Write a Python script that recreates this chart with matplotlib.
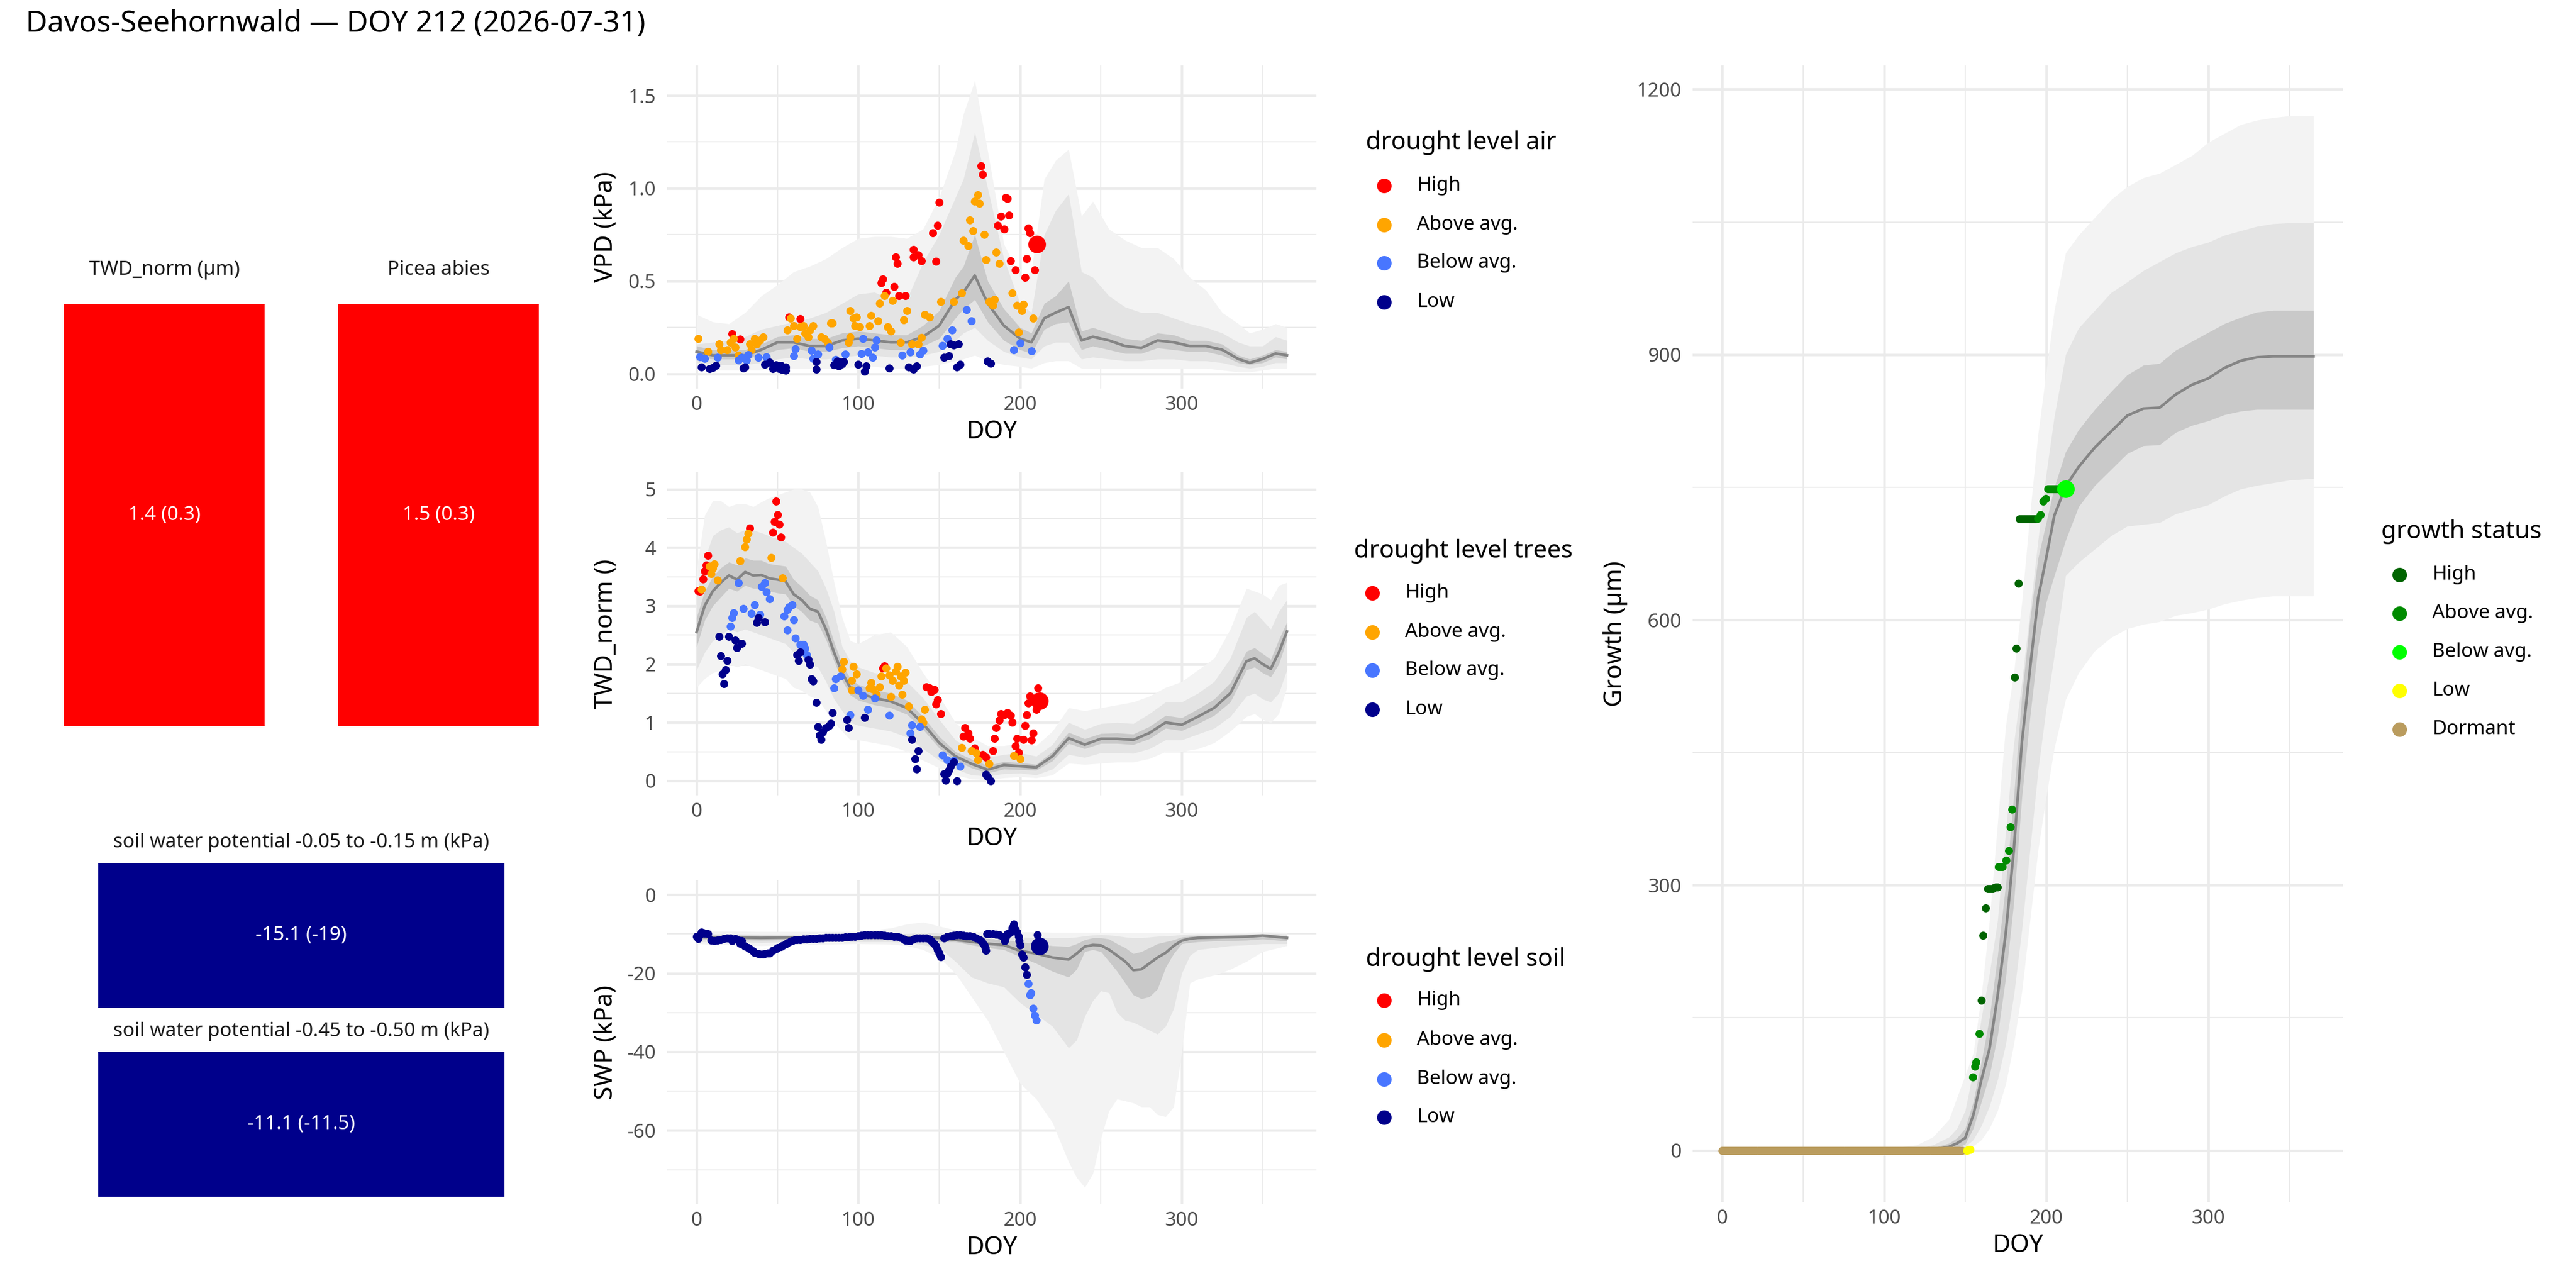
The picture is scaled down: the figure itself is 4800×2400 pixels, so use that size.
import numpy as np
import matplotlib
matplotlib.use("Agg")
import matplotlib.pyplot as plt
from matplotlib.lines import Line2D
from matplotlib.patches import Rectangle

plt.rcParams['font.family'] = ['Noto Sans', 'DejaVu Sans']
plt.rcParams['axes.unicode_minus'] = False

TITLE = "Davos-Seehornwald — DOY 212 (2026-07-31)"
NOW = 212

LEVELS = ["High", "Above avg.", "Below avg.", "Low"]
LEVEL_COLORS = ["#FF0000", "#FFA500", "#4876FF", "#00008B"]
GROWTH_LEVELS = ["High", "Above avg.", "Below avg.", "Low", "Dormant"]
GROWTH_COLORS = ["#006400", "#008B00", "#00FF00", "#FFFF00", "#BA9C5E"]

# summary tiles
tree_tile_labels = ["TWD_norm (µm)", "Picea abies"]
tree_tile_values = ["1.4 (0.3)", "1.5 (0.3)"]
soil_tile_labels = ["soil water potential -0.05 to -0.15 m (kPa)",
                    "soil water potential -0.45 to -0.50 m (kPa)"]
soil_tile_values = ["-15.1 (-19)", "-11.1 (-11.5)"]

# ---------------- VPD climatology ----------------
vpd_doy = [0, 10, 20, 30, 40, 50, 60, 70, 80, 90, 100, 110, 120, 130, 140, 150, 160, 165, 172, 180,
           190, 200, 207, 215, 222, 230, 238, 245, 255, 265, 275, 285, 295, 305, 315, 325, 335, 342,
           350, 358, 365]
vpd_med = [0.12, 0.10, 0.10, 0.10, 0.13, 0.17, 0.17, 0.15, 0.15, 0.18, 0.19, 0.18, 0.17, 0.17, 0.20,
           0.26, 0.40, 0.44, 0.53, 0.38, 0.26, 0.19, 0.17, 0.30, 0.33, 0.36, 0.18, 0.20, 0.18, 0.15,
           0.14, 0.18, 0.17, 0.15, 0.15, 0.13, 0.08, 0.06, 0.08, 0.11, 0.10]
vpd_in_lo = [0.09, 0.08, 0.08, 0.08, 0.10, 0.13, 0.14, 0.12, 0.12, 0.14, 0.15, 0.14, 0.13, 0.13, 0.15,
             0.19, 0.30, 0.35, 0.40, 0.28, 0.18, 0.13, 0.11, 0.24, 0.27, 0.28, 0.13, 0.15, 0.13, 0.11,
             0.11, 0.14, 0.13, 0.12, 0.12, 0.10, 0.06, 0.05, 0.06, 0.09, 0.08]
vpd_in_hi = [0.15, 0.13, 0.13, 0.13, 0.16, 0.20, 0.21, 0.19, 0.19, 0.22, 0.23, 0.22, 0.21, 0.21, 0.26,
             0.34, 0.52, 0.58, 0.75, 0.50, 0.35, 0.25, 0.22, 0.38, 0.42, 0.50, 0.23, 0.25, 0.22, 0.19,
             0.18, 0.22, 0.21, 0.18, 0.18, 0.16, 0.10, 0.08, 0.10, 0.13, 0.12]
vpd_mid_lo = [0.06, 0.05, 0.05, 0.05, 0.06, 0.08, 0.09, 0.08, 0.08, 0.09, 0.10, 0.10, 0.09, 0.09, 0.10,
              0.12, 0.18, 0.22, 0.25, 0.18, 0.12, 0.09, 0.08, 0.15, 0.17, 0.17, 0.08, 0.09, 0.08, 0.07,
              0.07, 0.08, 0.08, 0.07, 0.07, 0.06, 0.04, 0.03, 0.04, 0.06, 0.06]
vpd_mid_hi = [0.16, 0.17, 0.18, 0.20, 0.24, 0.26, 0.28, 0.30, 0.33, 0.38, 0.43, 0.44, 0.40, 0.40, 0.60,
              0.75, 0.95, 1.05, 1.30, 1.00, 0.62, 0.38, 0.33, 0.75, 0.88, 0.97, 0.55, 0.52, 0.42, 0.36,
              0.33, 0.33, 0.30, 0.27, 0.25, 0.22, 0.17, 0.15, 0.15, 0.20, 0.18]
vpd_out_lo = [0.03, 0.02, 0.02, 0.02, 0.02, 0.03, 0.03, 0.03, 0.03, 0.03, 0.04, 0.04, 0.03, 0.03, 0.04,
              0.05, 0.07, 0.08, 0.10, 0.07, 0.05, 0.04, 0.03, 0.06, 0.07, 0.07, 0.03, 0.03, 0.03, 0.03,
              0.03, 0.03, 0.03, 0.03, 0.03, 0.02, 0.01, 0.01, 0.02, 0.03, 0.03]
vpd_out_hi = [0.32, 0.28, 0.27, 0.33, 0.42, 0.48, 0.55, 0.58, 0.62, 0.68, 0.73, 0.74, 0.74, 0.73, 0.78,
              0.95, 1.20, 1.40, 1.58, 1.20, 0.70, 0.52, 0.55, 1.05, 1.15, 1.21, 0.85, 0.93, 0.78, 0.72,
              0.68, 0.68, 0.62, 0.52, 0.45, 0.33, 0.27, 0.22, 0.24, 0.27, 0.25]

# VPD observations of the current year, by drought level
vpd_high_doy = [22, 27, 57, 64, 114, 115, 117, 122, 125, 129, 123, 124, 134, 134, 137, 139, 148, 146,
                149, 150, 176, 177, 186, 188, 190, 193, 191, 192, 194, 197, 203, 204, 205, 206, 209]
vpd_high_val = [0.215, 0.187, 0.305, 0.298, 0.49, 0.51, 0.44, 0.47, 0.42, 0.42, 0.63, 0.595, 0.67,
                0.63, 0.64, 0.61, 0.605, 0.76, 0.80, 0.925, 1.12, 1.075, 0.80, 0.85, 0.78, 0.855,
                0.95, 0.945, 0.61, 0.56, 0.52, 0.62, 0.785, 0.76, 0.56]
vpd_above_doy = [1, 7, 14, 15, 19, 21, 23, 24, 26, 33, 34, 36, 37, 39, 41, 56, 58, 60, 62, 64, 66, 67,
                 69, 70, 72, 77, 79, 81, 83, 84, 94, 95, 95, 97, 98, 99, 101, 107, 108, 112, 113, 116,
                 118, 120, 121, 126, 128, 130, 133, 137, 139, 141, 144, 151, 159, 164, 165, 168, 169,
                 171, 172, 174, 175, 178, 179, 181, 183, 184, 185, 187, 195, 198, 201, 202, 199, 208]
vpd_above_val = [0.19, 0.12, 0.16, 0.13, 0.13, 0.17, 0.19, 0.145, 0.10, 0.16, 0.13, 0.19, 0.16, 0.18,
                 0.20, 0.235, 0.30, 0.26, 0.19, 0.255, 0.26, 0.22, 0.20, 0.235, 0.26, 0.20, 0.19,
                 0.17, 0.275, 0.275, 0.17, 0.20, 0.34, 0.30, 0.26, 0.305, 0.255, 0.26, 0.315, 0.285,
                 0.38, 0.42, 0.255, 0.23, 0.395, 0.17, 0.29, 0.34, 0.16, 0.16, 0.195, 0.32, 0.305,
                 0.39, 0.39, 0.435, 0.72, 0.69, 0.83, 0.77, 0.93, 0.965, 0.92, 0.75, 0.615, 0.39,
                 0.37, 0.40, 0.655, 0.595, 0.435, 0.37, 0.34, 0.375, 0.225, 0.30]
vpd_below_doy = [2, 5, 13, 26, 28, 31, 32, 38, 43, 60, 61, 71, 72, 75, 82, 86, 92, 102, 103, 106, 109,
                 111, 110, 127, 132, 138, 140, 152, 155, 158, 167, 170, 196, 200, 207]
vpd_below_val = [0.093, 0.083, 0.09, 0.073, 0.09, 0.073, 0.104, 0.09, 0.093, 0.097, 0.134, 0.125,
                 0.083, 0.107, 0.145, 0.076, 0.107, 0.11, 0.19, 0.118, 0.09, 0.18, 0.145, 0.10,
                 0.118, 0.107, 0.125, 0.152, 0.19, 0.235, 0.345, 0.284, 0.13, 0.166, 0.122]
vpd_low_doy = [3, 8, 10, 12, 29, 30, 42, 45, 47, 49, 51, 52, 53, 55, 55, 74, 74, 85, 87, 88, 89, 90,
               91, 100, 104, 105, 119, 131, 134, 136, 153, 156, 157, 159, 161, 162, 163, 180, 182]
vpd_low_val = [0.037, 0.028, 0.035, 0.044, 0.032, 0.037, 0.051, 0.062, 0.028, 0.048, 0.028, 0.046,
               0.021, 0.037, 0.018, 0.065, 0.024, 0.048, 0.069, 0.042, 0.062, 0.055, 0.065, 0.051,
               0.014, 0.042, 0.032, 0.037, 0.024, 0.042, 0.09, 0.097, 0.16, 0.156, 0.037, 0.16,
               0.051, 0.069, 0.058]
vpd_now_doy = 210.5
vpd_now = 0.70
vpd_now_level = "High"

# ---------------- TWD_norm climatology ----------------
twd_doy = [0, 5, 10, 15, 20, 25, 30, 35, 40, 45, 50, 55, 60, 65, 70, 75, 80, 85, 90, 95, 100, 110,
           120, 130, 140, 150, 160, 170, 180, 190, 200, 210, 220, 230, 240, 250, 260, 270, 280, 290,
           300, 310, 320, 330, 340, 345, 350, 355, 360, 365]
twd_med = [2.55, 3.0, 3.25, 3.4, 3.52, 3.45, 3.58, 3.52, 3.53, 3.47, 3.45, 3.42, 3.2, 3.1, 2.95, 2.9,
           2.6, 2.2, 1.85, 1.6, 1.5, 1.42, 1.36, 1.25, 0.98, 0.65, 0.42, 0.29, 0.19, 0.27, 0.25, 0.23,
           0.42, 0.73, 0.62, 0.72, 0.72, 0.70, 0.82, 1.0, 0.96, 1.1, 1.25, 1.5, 2.05, 2.1, 2.0, 1.92,
           2.2, 2.56]
twd_in_lo = [2.3, 2.75, 3.0, 3.15, 3.3, 3.25, 3.35, 3.3, 3.3, 3.25, 3.22, 3.2, 3.0, 2.9, 2.75, 2.7,
             2.42, 2.05, 1.72, 1.47, 1.38, 1.3, 1.25, 1.14, 0.88, 0.56, 0.35, 0.22, 0.13, 0.2, 0.19,
             0.18, 0.34, 0.64, 0.55, 0.64, 0.64, 0.62, 0.72, 0.9, 0.86, 0.98, 1.12, 1.35, 1.9, 1.95,
             1.85, 1.78, 2.0, 2.42]
twd_in_hi = [2.8, 3.25, 3.5, 3.65, 3.75, 3.7, 3.82, 3.78, 3.78, 3.72, 3.7, 3.68, 3.45, 3.33, 3.18,
             3.1, 2.8, 2.38, 2.0, 1.75, 1.65, 1.56, 1.5, 1.38, 1.1, 0.76, 0.5, 0.37, 0.26, 0.33, 0.31,
             0.28, 0.5, 0.83, 0.72, 0.81, 0.82, 0.8, 0.93, 1.12, 1.08, 1.23, 1.4, 1.68, 2.22, 2.28,
             2.18, 2.08, 2.42, 2.72]
twd_mid_lo = [1.9, 2.2, 2.4, 2.5, 2.6, 2.55, 2.6, 2.55, 2.5, 2.45, 2.4, 2.35, 2.2, 2.1, 2.0, 1.95,
              1.7, 1.4, 1.2, 1.0, 0.95, 0.9, 0.85, 0.75, 0.55, 0.35, 0.2, 0.1, 0.08, 0.12, 0.13, 0.1,
              0.2, 0.45, 0.4, 0.48, 0.48, 0.47, 0.55, 0.7, 0.7, 0.8, 0.9, 1.1, 1.45, 1.5, 1.4, 1.35,
              1.5, 1.9]
twd_mid_hi = [3.2, 3.8, 4.2, 4.3, 4.35, 4.25, 4.3, 4.3, 4.25, 4.2, 4.15, 4.1, 4.0, 3.9, 3.75, 3.6,
              3.3, 2.9, 2.3, 2.05, 1.95, 1.85, 1.82, 1.7, 1.42, 1.05, 0.7, 0.52, 0.4, 0.45, 0.48,
              0.42, 0.62, 1.0, 0.88, 0.98, 1.0, 0.98, 1.15, 1.35, 1.35, 1.5, 1.7, 2.1, 2.8, 2.9,
              2.75, 2.6, 2.9, 3.1]
twd_out_lo = [1.6, 1.75, 1.85, 1.9, 2.0, 1.95, 2.0, 1.95, 1.9, 1.85, 1.8, 1.75, 1.6, 1.55, 1.45, 1.4,
              1.2, 1.0, 0.85, 0.7, 0.7, 0.65, 0.6, 0.5, 0.35, 0.22, 0.1, 0.03, 0.02, 0.05, 0.07,
              0.05, 0.1, 0.3, 0.28, 0.3, 0.32, 0.32, 0.38, 0.5, 0.5, 0.55, 0.65, 0.85, 1.1, 1.15,
              1.05, 1.0, 1.15, 1.6]
twd_out_hi = [3.6, 4.55, 4.8, 4.8, 4.7, 4.75, 4.75, 4.7, 4.78, 4.85, 4.9, 4.95, 5.0, 5.0, 4.95, 4.7,
              4.1, 3.4, 2.8, 2.4, 2.35, 2.5, 2.55, 2.3, 1.85, 1.45, 1.0, 0.75, 0.6, 0.6, 0.65, 0.6,
              0.85, 1.25, 1.2, 1.25, 1.3, 1.35, 1.45, 1.6, 1.7, 1.9, 2.1, 2.6, 3.3, 3.25, 3.2, 3.1,
              3.35, 3.4]

twd_high_doy = [1, 2, 4, 5, 6, 7, 33, 47, 48, 49, 50, 51, 52, 115, 116, 142, 144, 145, 147, 148, 149,
                151, 165, 166, 168, 169, 172, 177, 179, 183, 184, 185, 187, 188, 190, 192, 194, 195,
                197, 198, 199, 202, 203, 204, 205, 206, 207, 208, 210, 211]
twd_high_val = [3.26, 3.25, 3.46, 3.6, 3.7, 3.86, 4.33, 4.26, 4.44, 4.79, 4.56, 4.4, 4.18, 1.93,
                1.97, 1.61, 1.59, 1.53, 1.56, 1.31, 1.39, 1.15, 0.76, 0.91, 0.82, 0.73, 0.56, 0.45,
                0.40, 0.51, 0.73, 0.91, 1.04, 1.15, 1.13, 1.17, 1.12, 1.0, 0.60, 0.73, 0.49, 0.71,
                0.95, 1.13, 1.33, 1.45, 0.70, 0.82, 1.22, 1.59]
twd_above_doy = [3, 8, 9, 10, 11, 13, 27, 30, 31, 32, 46, 53, 90, 91, 97, 99, 96, 96, 107, 108, 109,
                 111, 113, 114, 117, 119, 120, 121, 123, 124, 125, 126, 127, 128, 129, 131, 139, 140,
                 141, 164, 170, 173, 174, 181, 196, 200]
twd_above_val = [3.28, 3.68, 3.55, 3.64, 3.72, 3.44, 3.77, 4.01, 4.14, 4.24, 3.83, 3.48, 1.91, 2.04,
                 1.96, 1.83, 1.72, 1.55, 1.59, 1.68, 1.57, 1.48, 1.61, 1.79, 1.93, 1.81, 1.44, 1.72,
                 1.88, 1.96, 1.64, 1.79, 1.48, 1.72, 1.86, 1.28, 1.06, 1.0, 1.22, 0.57, 0.51, 0.48,
                 0.36, 0.29, 0.43, 0.38]
twd_below_doy = [21, 22, 23, 26, 29, 34, 36, 39, 40, 42, 43, 45, 54, 56, 57, 59, 56, 60, 61, 64, 66,
                 67, 68, 85, 86, 89, 95, 100, 103, 106, 110, 119, 133, 132, 138, 152, 155, 159, 163]
twd_below_val = [2.65, 2.80, 2.88, 3.39, 2.95, 2.87, 3.02, 2.85, 3.33, 3.39, 3.24, 3.12, 2.82, 2.93,
                 2.98, 3.02, 2.58, 2.76, 2.45, 2.34, 2.34, 2.27, 2.16, 1.59, 1.75, 1.79, 1.13, 1.55,
                 1.46, 1.22, 1.42, 1.12, 0.96, 0.82, 0.93, 0.44, 0.36, 0.35, 0.25]
twd_low_doy = [14, 15, 16, 17, 18, 19, 20, 24, 25, 28, 37, 38, 42, 62, 63, 64, 69, 70, 71, 72, 74, 75,
               76, 77, 78, 80, 82, 83, 84, 93, 94, 104, 133, 135, 137, 136, 153, 154, 155, 156, 157,
               159, 161, 179, 180, 182]
twd_low_val = [2.47, 2.14, 1.83, 1.66, 1.9, 2.06, 2.47, 2.41, 2.28, 2.35, 2.71, 2.80, 2.72, 2.16,
               2.06, 2.21, 2.08, 2.0, 1.75, 1.71, 1.34, 0.93, 0.78, 0.71, 0.84, 0.91, 0.95, 0.98,
               1.17, 1.05, 0.91, 1.08, 0.71, 0.38, 0.51, 0.20, 0.12, 0.01, 0.13, 0.18, 0.25, 0.32,
               0.0, 0.11, 0.07, 0.0]
twd_now = 1.37
twd_now_level = "High"

# ---------------- soil water potential climatology ----------------
swp_doy = [0, 20, 40, 60, 80, 100, 120, 130, 140, 150, 160, 170, 180, 190, 200, 210, 220, 230, 235,
           240, 245, 250, 255, 260, 265, 270, 275, 280, 285, 290, 295, 300, 305, 310, 320, 330, 340,
           350, 365]
swp_med = [-10.8, -10.9, -11.0, -10.9, -10.9, -10.9, -10.9, -10.9, -11.0, -11.0, -11.5, -12.0, -12.5,
           -12.8, -14.3, -15.0, -16.0, -16.5, -15.0, -13.2, -12.8, -12.9, -14.0, -15.5, -17.0, -19.2,
           -19.0, -17.5, -16.0, -14.8, -13.0, -11.7, -11.2, -11.0, -10.9, -10.8, -10.7, -10.4, -11.0]
swp_in_lo = [-11.5, -11.5, -11.6, -11.5, -11.5, -11.5, -11.5, -11.6, -11.8, -12.0, -12.0, -12.8,
             -13.5, -14.0, -15.8, -17.5, -19.5, -21.0, -19.0, -14.5, -14.0, -14.5, -17.0, -19.5,
             -22.5, -25.5, -26.5, -26.0, -24.0, -18.5, -15.0, -12.5, -12.2, -12.0, -11.8, -11.7,
             -11.6, -11.3, -11.8]
swp_in_hi = [-10.3, -10.3, -10.4, -10.4, -10.4, -10.4, -10.4, -10.4, -10.4, -10.5, -10.8, -11.0,
             -11.2, -11.5, -12.0, -12.5, -13.0, -13.2, -12.5, -11.5, -11.0, -11.0, -11.3, -12.5,
             -13.5, -15.0, -14.5, -13.5, -12.5, -12.0, -11.5, -10.8, -10.6, -10.5, -10.4, -10.3,
             -10.2, -10.0, -10.5]
swp_mid_lo = [-12.0, -12.0, -12.2, -12.0, -12.0, -12.0, -12.0, -12.2, -12.8, -13.5, -17.0, -21.0,
              -22.5, -23.5, -27.5, -30.5, -33.5, -39.0, -37.0, -31.0, -27.0, -24.5, -25.0, -30.0,
              -32.0, -32.5, -33.5, -34.5, -35.5, -33.5, -29.0, -20.0, -15.5, -14.0, -13.5, -13.0,
              -12.8, -12.5, -12.5]
swp_mid_hi = [-10.0, -10.0, -10.1, -10.1, -10.1, -10.1, -10.0, -9.9, -9.7, -9.8, -10.0, -10.2,
              -10.4, -10.6, -10.8, -11.0, -11.0, -11.0, -10.8, -10.5, -10.3, -10.2, -10.3, -10.5,
              -10.8, -11.0, -11.0, -10.8, -10.6, -10.5, -10.4, -10.2, -10.1, -10.0, -10.0, -10.0,
              -10.0, -9.8, -10.0]
swp_out_lo = [-12.5, -12.8, -13.0, -12.8, -12.6, -12.5, -12.6, -13.0, -14.0, -16.0, -20.0, -26.0,
              -32.0, -40.0, -48.0, -52.0, -58.0, -68.0, -72.0, -74.5, -71.0, -62.0, -55.0, -52.0,
              -52.5, -53.0, -54.0, -54.0, -56.0, -56.5, -54.0, -40.0, -22.5, -21.5, -20.5, -19.0,
              -17.0, -14.5, -13.0]
swp_out_hi = [-9.3, -9.3, -9.4, -9.4, -9.4, -9.4, -8.5, -7.5, -7.0, -8.0, -9.0, -9.4, -9.5, -9.5,
              -9.5, -9.5, -9.6, -9.6, -9.6, -9.6, -9.6, -9.6, -9.6, -9.6, -9.7, -9.7, -9.7, -9.7,
              -9.7, -9.7, -9.7, -9.6, -9.6, -9.6, -9.6, -9.6, -9.6, -9.5, -9.6]

swp_low_doy = [0, 1, 2, 3, 4, 5, 7, 9, 11, 13, 15, 17, 19, 21, 22, 24, 26, 27, 28, 30, 32, 33, 35, 36,
               38, 39, 41, 42, 44, 45, 47, 49, 50, 52, 53, 55, 56, 58, 59, 61, 62, 64, 66, 68, 70,
               72, 74, 76, 78, 80, 82, 84, 86, 88, 90, 92, 94, 96, 98, 100, 102, 104, 106, 108, 110,
               112, 114, 116, 118, 120, 122, 124, 126, 128, 129, 131, 132, 134, 136, 138, 140, 142,
               144, 145, 146, 147, 148, 149, 150, 151,
               153, 155, 157, 159, 161, 163, 165, 167, 169, 171, 173, 175, 176, 177, 178, 178.5, 179,
               179.5, 181, 183, 185, 187, 189, 190, 190.5, 191, 192, 193, 194, 195, 196, 197, 198,
               199, 199.5, 200, 201, 202, 203, 204, 210.7, 211.6]
swp_low_val = [-10.7, -11.2, -10.2, -9.6, -9.7, -9.8, -10.0, -11.6, -11.7, -11.6, -11.5, -11.2, -11.0,
               -11.0, -11.7, -11.2, -11.6, -12.4, -11.8, -13.1, -13.5, -13.8, -14.3, -14.7, -15.0,
               -15.2, -15.1, -15.0, -14.9, -14.9, -14.2, -13.8, -13.5, -13.2, -13.0, -12.6, -12.3,
               -11.9, -11.7, -11.5, -11.4, -11.4, -11.3, -11.3, -11.2, -11.2, -11.2, -11.0, -11.0,
               -10.9, -10.9, -10.9, -10.9, -10.9, -10.9, -10.8, -10.8, -10.7, -10.7, -10.5, -10.4,
               -10.3, -10.3, -10.3, -10.3, -10.3, -10.3, -10.4, -10.5, -10.5, -10.6, -10.7, -10.9,
               -11.3, -11.6, -11.8, -11.7, -11.3, -11.0, -11.0, -11.0, -11.0, -11.3, -11.7, -12.2,
               -12.6, -13.1, -14.0, -14.9, -15.9,
               -11.0, -10.7, -10.5, -10.4, -10.3, -10.3, -10.4, -10.5, -10.5, -10.7, -11.0, -11.4,
               -11.7, -12.3, -12.8, -13.5, -14.2,
               -10.0, -10.0, -10.0, -10.1, -10.2, -10.6, -11.0, -11.7, -10.8, -10.0, -9.8, -9.6,
               -8.5, -7.5, -8.9, -9.6, -10.7, -11.7, -12.8, -15.2, -16.0, -18.4, -20.4, -10.3, -11.7]
swp_below_doy = [205, 206.2, 206.8, 208, 209.2, 210]
swp_below_val = [-22.7, -25.5, -25.0, -29.0, -30.7, -32.0]
swp_now = -13.1
swp_now_level = "Low"

# ---------------- cumulative growth ----------------
g_doy = [0, 100, 120, 130, 140, 145, 150, 155, 160, 165, 170, 175, 180, 185, 190, 195, 200, 205, 212,
         220, 230, 240, 250, 260, 270, 280, 290, 300, 310, 320, 330, 340, 350, 365]
g_med = [0, 0, 0, 1, 4, 8, 14, 40, 80, 115, 175, 245, 340, 462, 545, 625, 670, 718, 751, 773, 795,
         813, 831, 839, 840, 855, 866, 873, 885, 893, 897, 898, 898, 898]
g_in_lo = [0, 0, 0, 0, 1, 3, 7, 25, 55, 85, 130, 195, 280, 400, 490, 570, 620, 650, 690, 728, 752,
           770, 788, 797, 798, 812, 820, 825, 832, 836, 838, 838, 838, 838]
g_in_hi = [0, 0, 1, 3, 8, 14, 25, 55, 100, 150, 220, 300, 400, 515, 600, 670, 710, 750, 790, 815,
           838, 858, 877, 888, 890, 905, 915, 925, 935, 942, 948, 950, 950, 950]
g_mid_lo = [0, 0, 0, 0, 1, 2, 4, 12, 28, 50, 80, 120, 175, 250, 340, 430, 500, 560, 650, 665, 680,
            695, 706, 708, 710, 720, 725, 730, 740, 748, 752, 755, 758, 760]
g_mid_hi = [0, 0, 2, 6, 15, 25, 45, 90, 150, 200, 260, 360, 460, 530, 610, 690, 765, 830, 900, 930,
            950, 970, 982, 995, 1005, 1015, 1022, 1027, 1035, 1040, 1045, 1048, 1049, 1049]
g_out_lo = [0, 0, 0, 0, 0, 1, 2, 5, 12, 25, 45, 75, 120, 180, 260, 340, 400, 455, 510, 540, 565,
            580, 590, 595, 598, 605, 608, 612, 618, 622, 625, 627, 627, 627]
g_out_hi = [0, 2, 6, 15, 35, 60, 85, 110, 175, 260, 370, 480, 540, 620, 720, 810, 880, 950, 1015,
            1035, 1055, 1075, 1090, 1100, 1105, 1115, 1125, 1140, 1150, 1160, 1165, 1168, 1170, 1170]

growth_dormant_first, growth_dormant_last = 0, 148   # daily zero growth
growth_low_doy = [151, 152, 153]
growth_low_val = [0, 1, 1]
growth_high_doy = [160.1, 161.1, 162.6, 164, 165, 166, 167, 168, 169, 170, 180.6, 181.5, 182.7,
                   183.5, 184.5, 185.5, 186.5, 187.5, 188.5, 189.5, 190.5, 191.5, 192.5, 193.5]
growth_high_val = [170, 243, 274, 296, 296, 296, 296, 297, 298, 298, 535, 568, 641, 714, 714, 714,
                   714, 714, 714, 714, 714, 714, 714, 714]
growth_above_doy = [154.7, 155.9, 156.6, 158.6, 170.6, 171.5, 172.3, 173, 175.2, 176.9, 178, 179,
                    194.7, 196.4, 198.1, 199.8, 201, 202, 203, 204, 205, 206, 207, 208]
growth_above_val = [83, 95, 100, 132, 321, 321, 321, 321, 328, 339, 366, 386, 715, 719, 734, 737,
                    748, 748, 748, 748, 748, 748, 748, 748]
growth_now = 748
growth_now_level = "Below avg."

# ---------------- figure ----------------
W, H = 4800, 2400
fig = plt.figure(figsize=(16, 8), dpi=300)

BAND_COLORS = ["#F3F3F3", "#E4E4E4", "#C9C9C9"]
GRID = "#EBEBEB"
PT = 13      # marker area of daily points
PT_NOW = 62  # marker area of the current day


def px_axes(x0, y0, x1, y1):
    return fig.add_axes([x0 / W, 1 - y1 / H, (x1 - x0) / W, (y1 - y0) / H])


def style_axes(ax, ylim, yticks, yminor, yticklabels, ylabel, ylab_x, height_px):
    ax.set_xlim(-18.25, 383.25)
    ax.set_ylim(*ylim)
    ax.set_xticks([0, 100, 200, 300])
    ax.set_xticks([50, 150, 250, 350], minor=True)
    ax.set_yticks(yticks)
    ax.set_yticklabels(yticklabels)
    ax.set_yticks(yminor, minor=True)
    ax.grid(which='major', color=GRID, lw=1.1)
    ax.grid(which='minor', color=GRID, lw=0.55)
    ax.set_axisbelow(True)
    for s in ax.spines.values():
        s.set_visible(False)
    ax.tick_params(which='both', length=0, labelsize=8.8, labelcolor='#4D4D4D')
    ax.tick_params(axis='x', pad=3.2)
    ax.tick_params(axis='y', pad=5.0)
    ax.set_xlabel("DOY", fontsize=11)
    ax.set_ylabel(ylabel, fontsize=11)
    ax.xaxis.set_label_coords(0.5, -58 / height_px)
    ax.yaxis.set_label_coords(ylab_x, 0.5)


def draw_bands(ax, doy, out_lo, out_hi, mid_lo, mid_hi, in_lo, in_hi, med):
    ax.fill_between(doy, out_lo, out_hi, color=BAND_COLORS[0], lw=0)
    ax.fill_between(doy, mid_lo, mid_hi, color=BAND_COLORS[1], lw=0)
    ax.fill_between(doy, in_lo, in_hi, color=BAND_COLORS[2], lw=0)
    ax.plot(doy, med, color="#858585", lw=1.2)


def draw_legend(x, y_title, ys, title, labels, colors):
    fig.text(x / W, 1 - y_title / H, title, fontsize=11, ha='left', va='center')
    for yy, lab, col in zip(ys, labels, colors):
        fig.add_artist(Line2D([(x + 34) / W], [1 - yy / H], marker='o', ms=5.5, lw=0,
                              color=col, transform=fig.transFigure))
        fig.text((x + 95) / W, 1 - yy / H, lab, fontsize=8.8, ha='left', va='center')


level_color = dict(zip(LEVELS, LEVEL_COLORS))
growth_color = dict(zip(GROWTH_LEVELS, GROWTH_COLORS))

fig.text(48 / W, 1 - 45 / H, TITLE, fontsize=13.2, ha='left', va='center')

# summary tiles
for i, (lab, val) in enumerate(zip(tree_tile_labels, tree_tile_values)):
    x0 = 119 + i * 511
    ax = px_axes(x0, 567, x0 + 374, 1353)
    ax.set_axis_off()
    ax.add_patch(Rectangle((0, 0), 1, 1, color=level_color["High"], transform=ax.transAxes))
    ax.text(0.5, 0.5, val, color='white', fontsize=8.8, ha='center', va='center',
            transform=ax.transAxes)
    fig.text((x0 + 187) / W, 1 - 503 / H, lab, fontsize=8.8, color='#1A1A1A',
             ha='center', va='center')

for i, (lab, val) in enumerate(zip(soil_tile_labels, soil_tile_values)):
    y0 = 1608 + i * 352
    ax = px_axes(183, y0, 940, y0 + 270)
    ax.set_axis_off()
    ax.add_patch(Rectangle((0, 0), 1, 1, color=level_color["Low"], transform=ax.transAxes))
    ax.text(0.5, 0.5, val, color='white', fontsize=8.8, ha='center', va='center',
            transform=ax.transAxes)
    fig.text(561 / W, 1 - (y0 - 38) / H, lab, fontsize=8.8, color='#1A1A1A',
             ha='center', va='center')

# VPD
ax = px_axes(1243, 122, 2453, 724)
draw_bands(ax, vpd_doy, vpd_out_lo, vpd_out_hi, vpd_mid_lo, vpd_mid_hi, vpd_in_lo, vpd_in_hi, vpd_med)
for d, v, lev in [(vpd_high_doy, vpd_high_val, "High"), (vpd_above_doy, vpd_above_val, "Above avg."),
                  (vpd_below_doy, vpd_below_val, "Below avg."), (vpd_low_doy, vpd_low_val, "Low")]:
    ax.scatter(d, v, s=PT, color=level_color[lev], lw=0, zorder=3)
ax.scatter([vpd_now_doy], [vpd_now], s=PT_NOW, color=level_color[vpd_now_level], lw=0, zorder=4)
style_axes(ax, (-0.079, 1.662), [0, 0.5, 1.0, 1.5], [0.25, 0.75, 1.25],
           ["0.0", "0.5", "1.0", "1.5"], "VPD (kPa)", -0.075, 602)

# TWD
ax = px_axes(1243, 880, 2453, 1482)
draw_bands(ax, twd_doy, twd_out_lo, twd_out_hi, twd_mid_lo, twd_mid_hi, twd_in_lo, twd_in_hi, twd_med)
for d, v, lev in [(twd_high_doy, twd_high_val, "High"), (twd_above_doy, twd_above_val, "Above avg."),
                  (twd_below_doy, twd_below_val, "Below avg."), (twd_low_doy, twd_low_val, "Low")]:
    ax.scatter(d, v, s=PT, color=level_color[lev], lw=0, zorder=3)
ax.scatter([NOW], [twd_now], s=PT_NOW, color=level_color[twd_now_level], lw=0, zorder=4)
style_axes(ax, (-0.25, 5.29), [0, 1, 2, 3, 4, 5], [0.5, 1.5, 2.5, 3.5, 4.5],
           ["0", "1", "2", "3", "4", "5"], "TWD_norm ()", -0.075, 602)

# SWP
ax = px_axes(1243, 1640, 2453, 2244)
draw_bands(ax, swp_doy, swp_out_lo, swp_out_hi, swp_mid_lo, swp_mid_hi, swp_in_lo, swp_in_hi, swp_med)
ax.scatter(swp_low_doy, swp_low_val, s=PT, color=level_color["Low"], lw=0, zorder=3)
ax.scatter(swp_below_doy, swp_below_val, s=PT, color=level_color["Below avg."], lw=0, zorder=3)
ax.scatter([NOW], [swp_now], s=PT_NOW, color=level_color[swp_now_level], lw=0, zorder=4)
style_axes(ax, (-78.8, 3.7), [-60, -40, -20, 0], [-70, -50, -30, -10],
           ["-60", "-40", "-20", "0"], "SWP (kPa)", -0.075, 604)

# growth
ax = px_axes(3154, 122, 4366, 2240)
draw_bands(ax, g_doy, g_out_lo, g_out_hi, g_mid_lo, g_mid_hi, g_in_lo, g_in_hi, g_med)
dormant_doy = np.arange(growth_dormant_first, growth_dormant_last + 1)
ax.scatter(dormant_doy, np.zeros(len(dormant_doy)), s=PT, color=growth_color["Dormant"], lw=0, zorder=3)
ax.scatter(growth_low_doy, growth_low_val, s=PT, color=growth_color["Low"], lw=0, zorder=3)
ax.scatter(growth_high_doy, growth_high_val, s=PT, color=growth_color["High"], lw=0, zorder=3)
ax.scatter(growth_above_doy, growth_above_val, s=PT, color=growth_color["Above avg."], lw=0, zorder=3)
ax.scatter([NOW], [growth_now], s=PT_NOW, color=growth_color[growth_now_level], lw=0, zorder=4)
style_axes(ax, (-58.5, 1227), [0, 300, 600, 900, 1200], [150, 450, 750, 1050],
           ["0", "300", "600", "900", "1200"], "Growth (µm)", -0.10, 2118)

# legends
draw_legend(2545, 266, [346, 419, 490, 563], "drought level air", LEVELS, LEVEL_COLORS)
draw_legend(2523, 1027, [1105, 1178, 1249, 1322], "drought level trees", LEVELS, LEVEL_COLORS)
draw_legend(2545, 1788, [1864, 1938, 2011, 2082], "drought level soil", LEVELS, LEVEL_COLORS)
draw_legend(4437, 991, [1071, 1143, 1215, 1287, 1359], "growth status", GROWTH_LEVELS, GROWTH_COLORS)

fig.savefig("out.png", dpi=300, facecolor='white')
